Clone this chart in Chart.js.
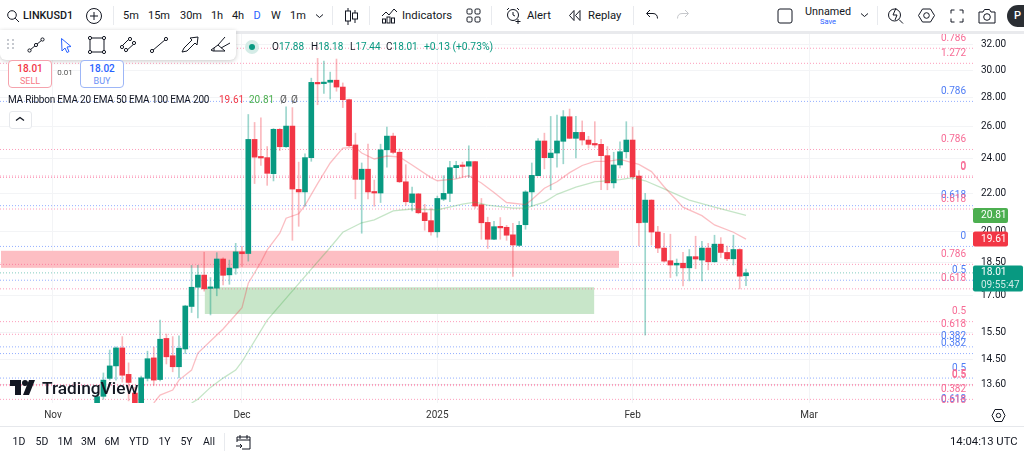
<!DOCTYPE html>
<html>
<head>
<meta charset="utf-8">
<title>LINKUSD1</title>
<script src="https://cdn.jsdelivr.net/npm/chart.js@4"></script>
<style>
html,body{margin:0;padding:0;background:#fff;overflow:hidden}
body{width:1024px;height:457px;position:relative;font-family:Roboto,sans-serif;color:#131722}
canvas{position:absolute;left:0;top:33px}
.t{position:absolute;white-space:nowrap;font-size:11px;line-height:14px}
.c{transform:translateX(-50%)}
.ic{position:absolute;fill:none;stroke:#131722;stroke-width:1}
.sep{position:absolute;width:1px;background:#e8eaee}
#strip{position:absolute;left:0;top:31px;width:1024px;height:3px;background:#e9eaed}
#tools{position:absolute;left:0;top:30px;width:236px;height:30px;background:#fff;border-radius:0 0 6px 6px;box-shadow:0 1px 4px rgba(0,0,0,.22)}
.box{position:absolute;width:42px;height:26px;border-radius:4px;background:#fff;text-align:center;font-size:10px;line-height:12px}
#bot{position:absolute;left:0;top:426px;width:1024px;height:1px;background:#e6e8ec}
</style>
</head>
<body>
<canvas id="myChart" width="1024" height="400"></canvas>

<!-- top bar -->
<div id="strip"></div>
<svg class="ic" style="left:6px;top:9px" width="15" height="15"><circle cx="6" cy="6" r="4.3"/><path d="M9.2 9.2L13 13"/></svg>
<span class="t" style="left:23px;top:9px;font-size:10.8px;font-weight:500">LINKUSD1</span>
<svg class="ic" style="left:85px;top:7px" width="18" height="18"><circle cx="9" cy="9" r="7.5"/><path d="M9 5v8M5 9h8"/></svg>
<div class="sep" style="left:113px;top:6px;height:19px"></div>
<div id="periods"></div>
<svg class="ic" style="left:313px;top:13px" width="14" height="8"><path d="M3 1.5l3.5 3 3.5-3"/></svg>
<div class="sep" style="left:332px;top:6px;height:19px"></div>
<svg class="ic" style="left:344px;top:7px" width="15" height="19"><path d="M4 1v17M11 3v13"/><rect x="1.5" y="4" width="5" height="10" fill="#fff"/><rect x="8.5" y="6" width="5" height="6" fill="#fff"/></svg>
<div class="sep" style="left:369px;top:6px;height:19px"></div>
<svg class="ic" style="left:381px;top:7px" width="17" height="17"><path d="M1 9l4-4 3 3 5-6 3 3"/><rect x="1.5" y="12" width="3" height="4"/><rect x="6" y="10" width="3" height="6"/><rect x="10.5" y="11" width="3" height="5"/></svg>
<span class="t" style="left:402px;top:9px;font-size:11.3px">Indicators</span>
<svg class="ic" style="left:466px;top:8px" width="15" height="15"><rect x="1" y="1" width="5" height="5" rx="1.2"/><rect x="9" y="1" width="5" height="5" rx="1.2"/><rect x="1" y="9" width="5" height="5" rx="1.2"/><rect x="9" y="9" width="5" height="5" rx="1.2"/></svg>
<div class="sep" style="left:491px;top:6px;height:19px"></div>
<svg class="ic" style="left:505px;top:7px" width="18" height="18"><circle cx="8" cy="8" r="5.5"/><path d="M8 5v3l2 1M2 3l2-2M12 1l2 2M13 12v5M10.5 14.5h5"/></svg>
<span class="t" style="left:527px;top:9px;font-size:11.3px">Alert</span>
<svg class="ic" style="left:568px;top:9px" width="14" height="13"><path d="M6 1.5L1.5 6.5 6 11.5zM12 1.5L7.5 6.5 12 11.5z"/></svg>
<span class="t" style="left:588px;top:9px;font-size:11.3px">Replay</span>
<div class="sep" style="left:633px;top:6px;height:19px"></div>
<svg class="ic" style="left:645px;top:9px" width="14" height="12"><path d="M5 1L1.5 4.5 5 8M2 4.5h6c3 0 4.5 2 4.5 5"/></svg>
<svg class="ic" style="left:676px;top:9px;stroke:#c6c8cc" width="14" height="12"><path d="M9 1l3.5 3.5L9 8M12 4.5H6c-3 0-4.5 2-4.5 5"/></svg>
<svg class="ic" style="left:777px;top:8px" width="16" height="16"><rect x="1" y="1" width="14" height="14" rx="2"/></svg>
<span class="t c" style="left:828px;top:5px;font-size:10.8px">Unnamed</span>
<span class="t c" style="left:828px;top:15px;font-size:7.5px;color:#2962ff">Save</span>
<svg class="ic" style="left:858px;top:12px" width="14" height="8"><path d="M3 1.5l3.5 3 3.5-3"/></svg>
<div class="sep" style="left:877px;top:6px;height:19px"></div>
<svg class="ic" style="left:887px;top:6px" width="18" height="19"><circle cx="7.5" cy="9" r="6"/><path d="M12 13.5l4 4M9 2L6 9h4l-2 5"/></svg>
<svg class="ic" style="left:918px;top:7px" width="17" height="17"><path d="M4.5 2h8l4 6.5-4 6.5h-8l-4-6.5z"/><circle cx="8.5" cy="8.5" r="2.8"/></svg>
<svg class="ic" style="left:950px;top:9px" width="14" height="14"><path d="M1 4.5V1h3.5M9.5 1H13v3.5M13 9.5V13H9.5M4.5 13H1V9.5"/></svg>
<svg class="ic" style="left:978px;top:8px" width="18" height="16"><path d="M1 4h4l1.5-2.5h5L13 4h4v11H1z"/><circle cx="9" cy="9" r="3.3"/></svg>
<div style="position:absolute;left:1007px;top:5px;width:30px;height:22px;border-radius:11px;background:#2a2e33"></div>
<span class="t" style="left:1014px;top:9px;color:#fff;font-weight:500">P</span>

<!-- floating drawing tools -->
<div id="tools"></div>
<svg class="ic" style="left:6px;top:39px;stroke:#c6c9cf;stroke-dasharray:2 2;stroke-width:2" width="10" height="12"><path d="M2 0v12M7 0v12"/></svg>
<svg class="ic" style="left:26px;top:36px" width="20" height="18"><path d="M4 14L16 4"/><circle cx="3.5" cy="14.5" r="1.6" fill="#fff"/><circle cx="10" cy="9" r="1.6" fill="#fff"/><circle cx="16.5" cy="3.5" r="1.6" fill="#fff"/></svg>
<svg class="ic" style="left:60px;top:37px;stroke:#2962ff" width="13" height="17"><path d="M1.5 1.5L11 9.5 7 10l2 4.5-2 1-2-4.5-3 3z"/></svg>
<svg class="ic" style="left:87px;top:35px" width="20" height="20"><rect x="3" y="3" width="14" height="14"/><g fill="#fff"><circle cx="3" cy="3" r="1.6"/><circle cx="17" cy="3" r="1.6"/><circle cx="3" cy="17" r="1.6"/><circle cx="17" cy="17" r="1.6"/></g></svg>
<svg class="ic" style="left:119px;top:35px" width="20" height="20"><path d="M2 12L12 2M6 17L17 7"/><g fill="#fff"><circle cx="3" cy="12" r="1.6"/><circle cx="11" cy="4" r="1.6"/><circle cx="7" cy="15" r="1.6"/><circle cx="15" cy="8" r="1.6"/></g></svg>
<svg class="ic" style="left:149px;top:36px" width="20" height="18"><path d="M3 15L17 3"/><g fill="#fff"><circle cx="3" cy="15" r="1.6"/><circle cx="17" cy="3" r="1.6"/></g></svg>
<svg class="ic" style="left:180px;top:35px" width="19" height="19"><path d="M2 17l2-4 8-8-2-2 8-1-1 8-2-2-8 8z"/></svg>
<svg class="ic" style="left:210px;top:35px" width="22" height="19"><path d="M1 15l7-5 7 6H3zM8 10l7-8M11 13l9-5M4 16v-3"/></svg>

<!-- ohlc legend -->
<div style="position:absolute;left:245px;top:40px;width:14px;height:14px;border-radius:7px;background:#d5ece7"></div>
<div style="position:absolute;left:249px;top:44px;width:6px;height:6px;border-radius:3px;background:#089981"></div>
<span class="t" style="left:272px;top:40px;font-size:10px">O<span style="color:#089981">17.88</span></span>
<span class="t" style="left:311px;top:40px;font-size:10px">H<span style="color:#089981">18.18</span></span>
<span class="t" style="left:350px;top:40px;font-size:10px">L<span style="color:#089981">17.44</span></span>
<span class="t" style="left:386px;top:40px;font-size:10px">C<span style="color:#089981">18.01</span></span>
<span class="t" style="left:424px;top:40px;font-size:10.3px;color:#089981">+0.13 (+0.73%)</span>

<!-- sell / buy -->
<div class="box" style="left:8px;top:60px;border:1px solid #f5a3ad;color:#f23645"><div style="margin-top:2px;font-weight:500">18.01</div><div style="font-size:9px;color:#f77c88">SELL</div></div>
<span class="t c" style="left:65px;top:66px;font-size:8px;color:#555">0.01</span>
<div class="box" style="left:80px;top:60px;border:1px solid #9db6f7;color:#2962ff"><div style="margin-top:2px;font-weight:500">18.02</div><div style="font-size:9px;color:#6a90f5">BUY</div></div>

<!-- indicator legend -->
<span class="t" style="left:8px;top:93px;font-size:10px;letter-spacing:-.2px">MA Ribbon EMA 20 EMA 50 EMA 100 EMA 200</span>
<span class="t" style="left:219px;top:93px;font-size:10px;color:#f23645">19.61</span>
<span class="t" style="left:249px;top:93px;font-size:10px;color:#4caf50">20.81</span>
<span class="t" style="left:280px;top:93px;font-size:10px;color:#555">Ø</span>
<span class="t" style="left:291px;top:93px;font-size:10px;color:#555">Ø</span>
<div style="position:absolute;left:9px;top:111px;width:21px;height:16px;border:1px solid #e6e8ec;border-radius:3px;background:#fff"></div>
<svg class="ic" style="left:14px;top:115px" width="12" height="8"><path d="M2 5.5l4-3 4 3" stroke-width="1.3"/></svg>

<!-- logo -->
<svg style="position:absolute;left:10px;top:380px" width="26" height="15"><path d="M0 0h11v15H5V6H0zM25 0l-6 15h-6l6-15z" fill="#131722"/><circle cx="15" cy="3" r="3" fill="#131722"/></svg>
<span class="t" style="left:42px;top:378px;font-size:17.3px;line-height:20px;font-weight:500;color:#131722">TradingView</span>

<!-- bottom bar -->
<div id="bot"></div>
<svg class="ic" style="left:991px;top:408px" width="15" height="15"><path d="M4 1.5h7l3 6-3 6H4l-3-6z"/><circle cx="7.5" cy="7.5" r="2.2"/></svg>
<div id="ranges"></div>
<div class="sep" style="left:224px;top:433px;height:18px"></div>
<svg class="ic" style="left:235px;top:434px" width="17" height="17"><path d="M2 8V3h13v12H7M2 6h13M5 1v4M12 1v4M1 12h6M5 10l2 2-2 2"/></svg>
<span class="t" style="left:950px;top:435px;font-size:11.3px">14:04:13 UTC</span>

<script>
// chart values
var days = [7,8,9,10,11,12,13,14,15,16,17,18,19,20,21,22,23,24,25,26,27,28,29,30,31,32,33,34,35,36,37,38,39,40,41,42,43,44,45,46,47,48,49,50,51,52,53,54,55,56,57,58,59,60,61,62,63,64,65,66,67,68,69,70,71,72,73,74,75,76,77,78,79,80,81,82,83,84,85,86,87,88,89,90,91,92,93,94,95,96,97,98,99,100,101,102,103,104,105,106,107,108,109,110];
var opens = [12.8,13.2,13.81,14.25,14.91,13.95,13.31,12.96,13.81,14.54,13.77,15.27,14.62,14.22,14.87,16.55,17.37,17.91,17.32,17.33,18.65,17.92,18.23,18.99,18.91,25.2,24.1,24.07,23.12,25.85,24.74,26.06,22.22,22.08,24.07,29.09,29.0,29.1,29.25,28.75,27.85,24.85,22.79,23.38,22.1,22.02,24.55,25.41,24.4,22.65,21.5,21.97,20.95,20.54,19.97,21.68,22.0,23.47,23.62,23.56,23.83,21.38,20.45,19.6,20.25,20.2,19.82,19.3,20.33,22.08,23.0,25.1,24.07,24.35,25.08,26.68,25.27,25.65,25.16,24.92,24.89,24.19,22.59,23.63,24.43,25.16,22.98,20.45,21.63,19.96,19.17,18.57,18.37,18.45,18.24,18.76,18.6,19.17,18.52,19.36,18.96,18.66,19.1,17.88];
var highs = [13.3,14.0,14.83,14.95,15.34,14.36,13.5,13.89,14.79,14.94,15.99,15.44,15.34,15.37,16.6,18.35,18.35,18.97,17.8,18.95,18.7,18.6,19.4,19.25,26.83,26.3,26.6,24.75,25.9,25.9,27.35,27.3,23.8,24.3,29.4,30.9,30.7,29.85,30.85,29.05,27.9,25.6,23.75,24.9,22.75,24.9,26.0,25.6,24.6,23.65,22.35,22.0,21.4,21.2,21.85,23.0,23.85,23.85,23.8,24.8,23.85,21.72,20.72,20.5,20.7,20.3,20.4,20.5,22.15,23.75,25.25,25.6,26.7,26.8,27.1,27.2,26.7,26.4,25.4,26.35,25.2,24.75,24.4,25.05,26.35,26.0,23.3,22.0,21.65,20.25,19.9,19.85,18.65,18.97,19.1,19.75,19.5,19.4,19.8,19.68,19.27,19.8,19.14,18.18];
var lows = [12.7,13.1,13.75,13.75,13.68,13.05,12.8,12.8,13.72,13.57,13.72,14.32,14.04,13.83,14.7,16.3,16.08,17.2,16.2,17.0,17.47,17.5,17.95,18.3,18.55,22.55,23.6,22.45,22.7,24.5,24.7,19.55,20.25,21.3,23.85,27.5,28.3,27.9,28.45,27.3,24.75,21.7,19.9,21.7,21.3,21.5,23.5,24.3,22.6,21.35,21.05,20.9,20.05,19.8,19.7,21.6,21.55,22.85,22.95,22.9,21.2,19.6,19.15,19.58,19.6,19.55,17.85,19.25,20.1,21.3,23.0,23.4,22.2,23.5,23.7,25.25,24.05,24.85,24.65,24.7,22.2,22.2,22.3,23.45,24.05,22.8,19.27,15.4,19.32,18.95,18.5,17.8,17.87,17.43,17.65,18.2,17.65,18.15,18.5,18.72,18.57,18.37,17.3,17.44];
var closes = [13.19,13.75,14.25,14.91,13.92,13.67,12.93,13.83,14.51,13.75,15.24,14.58,14.22,14.9,16.57,17.37,17.91,17.3,17.35,18.65,17.9,18.23,18.99,18.9,25.2,24.1,24.05,23.14,25.85,24.74,26.06,22.24,22.08,24.07,29.09,28.98,29.1,29.25,28.75,27.85,24.8,22.79,23.38,22.08,22.02,24.55,25.41,24.39,22.65,21.54,21.97,20.95,20.54,19.97,21.72,22.0,23.47,23.6,23.54,23.83,21.31,20.43,19.6,20.23,20.17,19.8,19.32,20.3,22.08,23.02,25.1,24.07,24.35,25.1,26.68,25.27,25.65,25.16,24.89,24.85,24.19,22.59,23.63,24.43,25.16,22.94,20.43,21.63,19.96,19.17,18.55,18.37,18.45,18.24,18.76,18.65,19.17,18.52,19.36,18.96,18.66,19.1,17.86,18.01];

var ema20Days = [16,17,19,20,22,23,27,30,31,33,34,36,37,39,40,42,44,46,48,49,51,53,55,57,60,61,64,66,68,70,72,75,76,78,80,82,84,86,88,90,93,95,97,100,103,105,108,110];
var ema20 = [12.98,13.24,13.41,13.75,14.1,14.72,15.64,16.5,17.55,18.5,19.09,19.9,20.67,20.9,21.35,22.55,23.75,24.65,24.7,24.35,23.99,24.17,24.11,23.63,22.89,22.71,22.82,23.0,22.58,22.05,21.5,21.39,21.65,22.29,22.65,23.18,23.6,23.84,23.84,23.96,23.66,23.24,22.37,21.25,20.8,20.32,19.95,19.61];
var ema50Days = [22,23,25,27,29,30,34,41,44,46,49,51,54,57,61,65,67,69,73,75,78,80,83,86,90,92,94,97,101,105,110];
var ema50 = [12.98,13.1,13.5,13.82,14.1,14.4,15.99,18.18,19.2,19.95,20.43,20.58,21.05,21.15,21.1,21.41,21.52,21.36,21.2,21.2,21.52,21.95,22.35,22.65,22.77,22.89,22.71,22.25,21.63,21.25,20.81];

// fib levels drawn on the chart: price, label, colour group
var fibPrices = [31.7,30.52,27.73,24.57,22.98,22.9,21.33,21.15,19.25,18.4,17.68,17.3,15.93,15.43,14.95,14.7,13.82,13.6,13.56,13.1,12.77,12.75];
var fibLabels = ["0.786","1.272","0.786","0.786","0","0","0.618","0.618","0","0.786","0.5","0.618","0.5","0.618","0.382","0.382","0.5","0.5","0.5","0.382","0.618","0.618"];
var fibGroups = ["p","p","b","p","p","p","b","p","b","p","b","p","p","p","b","b","b","p","p","p","b","p"];

var zonePink = {from:-8.25, to:89.84, top:19.04, bottom:18.24};
var zoneGreen = {from:24.1, to:85.9, top:17.37, bottom:16.24};

var yTicks = [32,30,28,26,24,22,20,18.5,17,15.5,14.5,13.6];
var xTickDays = [0,30,61,92,120];
var xTickLabels = ["Nov","Dec","2025","Feb","Mar"];
var periods = ["5m","15m","30m","1h","4h","D","W","1m"];
var periodX = [131,159,191,217,238,257,276,298];
var ranges = ["1D","5D","1M","3M","6M","YTD","1Y","5Y","All"];
var rangeX = [19,42,65,88.5,112,139,164.5,186.5,209];

var lastPrice = 18.01;
var xMin = -8.41, xMax = 146.03;
var yMin = 12.98, yMax = 32.94;

var UP = "#089981", DOWN = "#f23645";

periods.forEach(function (p, i) {
    var col = p == "D" ? "#2962ff" : "#131722";
    document.getElementById("periods").innerHTML += '<span class="t c" style="left:' + periodX[i] + 'px;top:9px;font-size:11px;color:' + col + '">' + p + '</span>';
});
ranges.forEach(function (r, i) {
    document.getElementById("ranges").innerHTML += '<span class="t c" style="left:' + rangeX[i] + 'px;top:435px;font-size:10.5px">' + r + '</span>';
});

var bodies = [], wicks = [], bodyColors = [], wickColors = [];
for (var i = 0; i < days.length; i++) {
    var up = closes[i] >= opens[i];
    bodies.push({x: days[i], y: [opens[i], closes[i]]});
    wicks.push({x: days[i], y: [lows[i], highs[i]]});
    bodyColors.push(up ? UP : DOWN);
    wickColors.push(up ? "rgba(8,153,129,.4)" : "rgba(242,54,69,.35)");
}

function xy(xs, ys) {
    return xs.map(function (x, i) { return {x: x, y: ys[i]}; });
}

var datasets = [];
fibPrices.forEach(function (p, i) {
    datasets.push({
        type: "line", data: [{x: xMin, y: p}, {x: xMax, y: p}], order: 6,
        borderColor: fibGroups[i] == "p" ? "rgba(250,90,140,.6)" : "rgba(60,110,255,.55)",
        borderWidth: 1, borderDash: [1, 2], pointRadius: 0
    });
});
datasets.push({
    type: "line", data: [{x: xMin, y: lastPrice}, {x: xMax, y: lastPrice}], order: 6,
    borderColor: "rgba(8,153,129,.5)", borderWidth: 1, borderDash: [1, 2], pointRadius: 0
});
datasets.push({type: "bar", data: wicks, backgroundColor: wickColors, barThickness: 1, order: 4, grouped: false});
datasets.push({type: "bar", data: bodies, backgroundColor: bodyColors, barThickness: 5, minBarLength: 1.5, order: 3, grouped: false});
datasets.push({type: "line", data: xy(ema20Days, ema20), borderColor: "rgba(242,54,69,.32)", borderWidth: 1.3, pointRadius: 0, order: 2});
datasets.push({type: "line", data: xy(ema50Days, ema50), borderColor: "rgba(76,175,80,.32)", borderWidth: 1.3, pointRadius: 0, order: 2});

function drawZone(ctx, c, z, col) {
    var x = c.scales.x, y = c.scales.y;
    ctx.fillStyle = col;
    ctx.fillRect(x.getPixelForValue(z.from), y.getPixelForValue(z.top),
        x.getPixelForValue(z.to) - x.getPixelForValue(z.from),
        y.getPixelForValue(z.bottom) - y.getPixelForValue(z.top));
}

var zonesPlugin = {
    id: "zones",
    beforeDatasetsDraw: function (c) {
        var ctx = c.ctx, a = c.chartArea;
        ctx.save();
        ctx.beginPath();
        ctx.rect(a.left, a.top, a.width, a.height);
        ctx.clip();
        drawZone(ctx, c, zonePink, "#fdbec3");
        drawZone(ctx, c, zoneGreen, "#c8e6c9");
        ctx.restore();
    }
};

function priceBox(ctx, y, txt, col, right, h, sub) {
    ctx.fillStyle = col;
    ctx.beginPath();
    ctx.roundRect(973, y - 7.5, right - 973, h, 2);
    ctx.fill();
    ctx.fillStyle = "#fff";
    ctx.textAlign = "left";
    ctx.textBaseline = "middle";
    ctx.font = "10.2px Roboto";
    ctx.fillText(txt, 981, y);
    if (sub) {
        ctx.fillStyle = "rgba(255,255,255,.8)";
        ctx.font = "10px Roboto";
        ctx.fillText(sub, 981, y + 13);
    }
}

var labelsPlugin = {
    id: "labels",
    afterDraw: function (c) {
        var ctx = c.ctx, y = c.scales.y;
        ctx.save();
        ctx.font = "10px Roboto";
        ctx.textAlign = "right";
        ctx.textBaseline = "middle";
        fibPrices.forEach(function (p, i) {
            ctx.fillStyle = fibGroups[i] == "p" ? "#f76b95" : "#4f7df5";
            ctx.fillText(fibLabels[i], 966, y.getPixelForValue(p) - 10);
        });
        priceBox(ctx, y.getPixelForValue(ema50[ema50.length - 1]), "20.81", "#4caf50", 1008, 15);
        priceBox(ctx, y.getPixelForValue(ema20[ema20.length - 1]), "19.61", DOWN, 1008, 15);
        priceBox(ctx, y.getPixelForValue(lastPrice), "18.01", UP, 1023, 26, "09:55:47");
        ctx.restore();
    }
};

var chart = new Chart(document.getElementById("myChart").getContext("2d"), {
    type: "bar",
    data: {datasets: datasets},
    plugins: [zonesPlugin, labelsPlugin],
    options: {
        responsive: false,
        animation: false,
        layout: {padding: 0},
        plugins: {legend: {display: false}, tooltip: {enabled: false}},
        scales: {
            x: {
                type: "linear", min: xMin, max: xMax, bounds: "data", offset: false,
                grid: {color: "#f3f4f6", offset: false, drawTicks: false},
                border: {display: false},
                ticks: {
                    autoSkip: false, maxRotation: 0, padding: 6, color: "#333",
                    font: {family: "Roboto", size: 10},
                    callback: function (v) { return xTickLabels[xTickDays.indexOf(v)]; }
                },
                afterBuildTicks: function (s) {
                    s.ticks = xTickDays.map(function (d) { return {value: d}; });
                },
                afterFit: function (s) { s.height = 30; s.paddingLeft = 0; s.paddingRight = 0; }
            },
            y: {
                type: "logarithmic", position: "right", min: yMin, max: yMax, bounds: "data",
                grid: {color: "#f3f4f6", drawTicks: false},
                border: {display: false},
                ticks: {
                    autoSkip: false, padding: 8, color: "#131722", crossAlign: "near",
                    font: {family: "Roboto", size: 10},
                    callback: function (v) { return v.toFixed(2); }
                },
                afterBuildTicks: function (s) {
                    s.ticks = yTicks.map(function (v) { return {value: v}; });
                },
                afterFit: function (s) { s.width = 51; s.paddingTop = 0; s.paddingBottom = 0; }
            }
        }
    }
});
</script>
</body>
</html>
